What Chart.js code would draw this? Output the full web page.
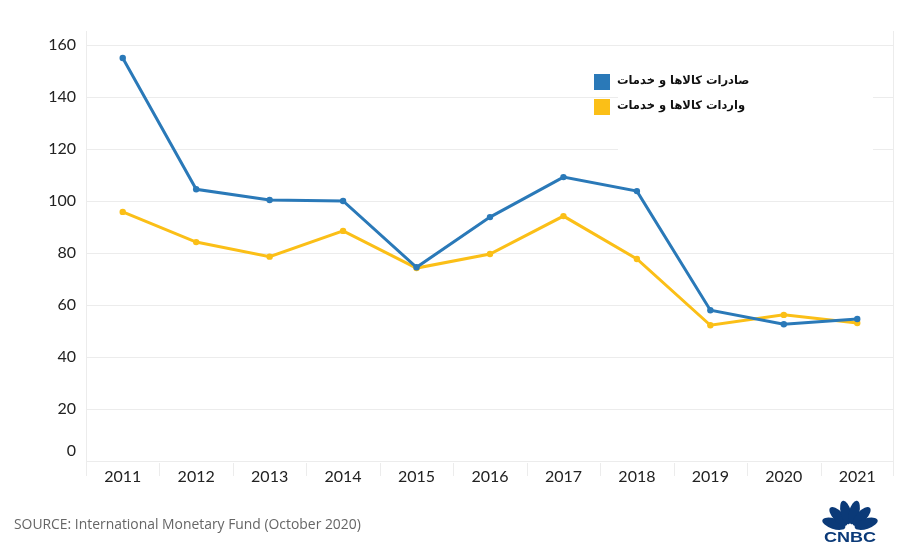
<!DOCTYPE html>
<html><head><meta charset="utf-8">
<script src="https://cdn.jsdelivr.net/npm/chart.js@4"></script>
<style>
html,body{margin:0;padding:0;background:#fff;}
#wrap{position:relative;width:900px;height:547px;}
#src{position:absolute;left:14px;top:514px;font:13.9px "Open Sans",Lato,sans-serif;color:#666;}
#logo{position:absolute;left:819px;top:496px;}
</style></head>
<body>
<div id="wrap">
<canvas id="c" width="900" height="547"></canvas>
<div id="src">SOURCE: International Monetary Fund (October 2020)</div>
<svg id="logo" width="62" height="48" viewBox="0 0 62 48">
<g fill="#0b3a78" transform="translate(31,33)">
<ellipse cx="0" cy="-17" rx="5.2" ry="12" transform="rotate(-72)"/>
<ellipse cx="0" cy="-17" rx="5.2" ry="12" transform="rotate(-43)"/>
<ellipse cx="0" cy="-17" rx="5.2" ry="12" transform="rotate(-14)"/>
<ellipse cx="0" cy="-17" rx="5.2" ry="12" transform="rotate(14)"/>
<ellipse cx="0" cy="-17" rx="5.2" ry="12" transform="rotate(43)"/>
<ellipse cx="0" cy="-17" rx="5.2" ry="12" transform="rotate(72)"/>
</g>
<text x="31" y="46" text-anchor="middle" font-family="Liberation Sans, Arial" font-weight="bold" font-size="14" textLength="52" lengthAdjust="spacingAndGlyphs" fill="#0b3a78">CNBC</text>
</svg>
</div>
<script>
const categories = ["2011","2012","2013","2014","2015","2016","2017","2018","2019","2020","2021"];
const exportsValues = [155, 104.5, 100.4, 100, 74.5, 93.8, 109.2, 103.8, 58, 52.6, 54.6];
const importsValues = [95.8, 84.2, 78.6, 88.5, 74.2, 79.6, 94.2, 77.7, 52.2, 56.2, 53.1];
const seriesNames = ["صادرات کالاها و خدمات", "واردات کالاها و خدمات"];
const yTicks = [0, 20, 40, 60, 80, 100, 120, 140, 160];

const blue = "#2a79b8", yellow = "#fbbf17";

const bordersPlugin = {
  id: "borders",
  beforeDatasetsDraw(chart) {
    const {ctx, chartArea: a} = chart;
    ctx.save();
    ctx.strokeStyle = "#ececec"; ctx.lineWidth = 1;
    ctx.beginPath();
    ctx.moveTo(a.right - 0.5, a.top - 14); ctx.lineTo(a.right - 0.5, a.bottom + 15);
    ctx.moveTo(a.left + 0.5, a.top - 14); ctx.lineTo(a.left + 0.5, a.bottom + 15);
    const step = (a.right - a.left) / categories.length;
    for (let i = 1; i < categories.length; i++) {
      const x = Math.round(a.left + step * i) + 0.5;
      ctx.moveTo(x, a.bottom + 2); ctx.lineTo(x, a.bottom + 15);
    }
    ctx.stroke();
    // white legend backdrop
    ctx.fillStyle = "#fff";
    ctx.fillRect(618, 62, 255, 88);
    // y labels
    const ys = chart.scales.y;
    ctx.font = "16px Lato";
    ctx.fillStyle = "#222";
    ctx.textAlign = "right";
    ctx.textBaseline = "middle";
    yTicks.forEach(v => {
      const y = ys.getPixelForValue(v) + (v === 0 ? -10 : 0);
      ctx.fillText(String(v), 76, y);
    });
    ctx.restore();
  },
  afterDatasetsDraw(chart) {
    const {ctx} = chart;
    ctx.save();
    const cols = [blue, yellow];
    const ys = [82, 107];
    ctx.font = "bold 11.5px 'DejaVu Sans'";
    ctx.textBaseline = "middle";
    for (let i = 0; i < 2; i++) {
      ctx.fillStyle = cols[i];
      ctx.fillRect(594, ys[i] - 8, 16, 16);
      ctx.fillStyle = "#111";
      ctx.direction = "rtl";
      ctx.textAlign = "right";
      const w = ctx.measureText(seriesNames[i]).width;
      ctx.fillText(seriesNames[i], 617 + w, ys[i] - 1);
    }
    ctx.restore();
  }
};

new Chart(document.getElementById("c"), {
  type: "line",
  data: {
    labels: categories,
    datasets: [
      {label: seriesNames[0], data: exportsValues, borderColor: blue, backgroundColor: blue,
       borderWidth: 3, pointRadius: 3.2, pointBackgroundColor: blue, pointBorderWidth: 0, tension: 0},
      {label: seriesNames[1], data: importsValues, borderColor: yellow, backgroundColor: yellow,
       borderWidth: 3, pointRadius: 3.2, pointBackgroundColor: yellow, pointBorderWidth: 0, tension: 0}
    ]
  },
  options: {
    responsive: false, animation: false,
    layout: {padding: {top: 45, right: 6, bottom: 0, left: 0}},
    plugins: {legend: {display: false}, tooltip: {enabled: false}},
    scales: {
      x: {
        offset: true,
        grid: {display: false},
        border: {display: false},
        ticks: {color: "#222", font: {family: "Lato", size: 16}, padding: -2},
        afterFit(s) { s.height = 86; }
      },
      y: {
        min: 0, max: 160,
        afterBuildTicks(s) { s.ticks = yTicks.map(v => ({value: v})); },
        grid: {color: "#ececec", drawTicks: false},
        border: {display: false},
        ticks: {display: false},
        afterFit(s) { s.width = 86; }
      }
    }
  },
  plugins: [bordersPlugin]
});
</script>
</body></html>
